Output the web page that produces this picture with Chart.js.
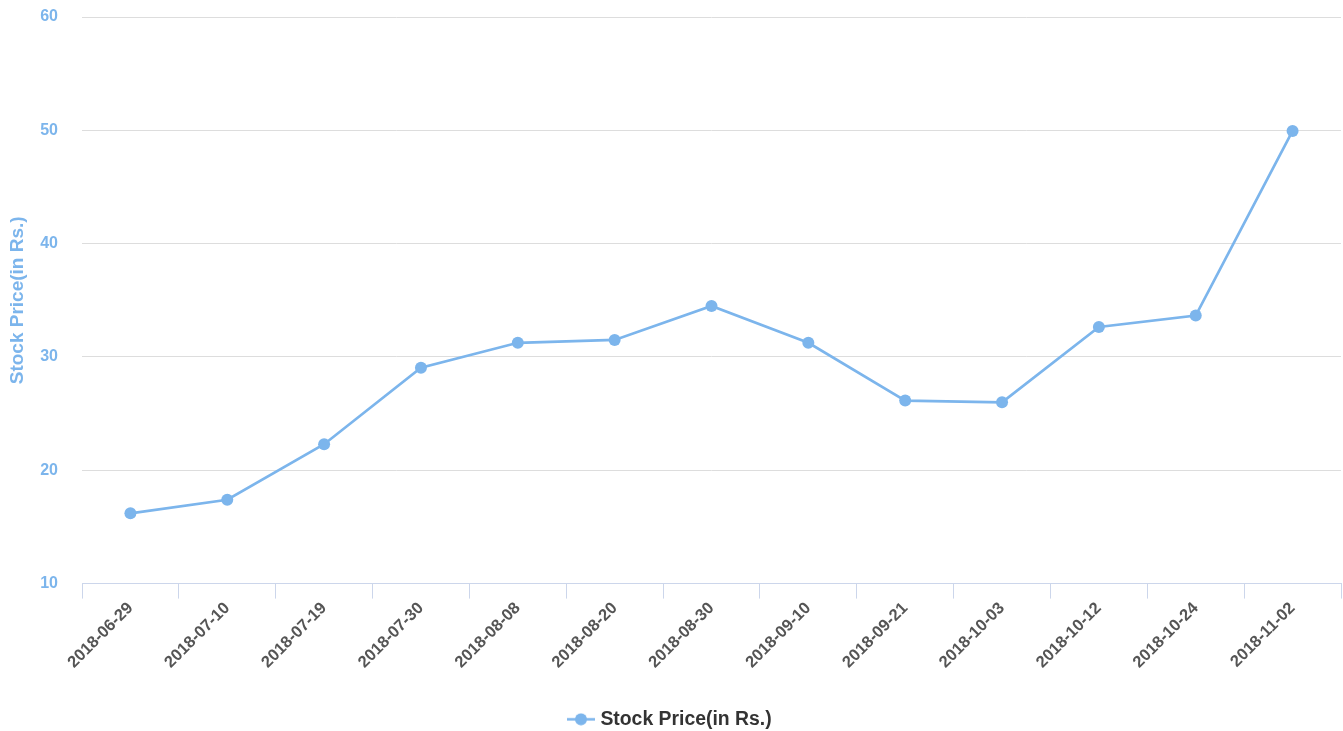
<!DOCTYPE html>
<html>
<head>
<meta charset="utf-8">
<script src="https://cdn.jsdelivr.net/npm/chart.js@4/dist/chart.umd.min.js"></script>
<style>
  html, body { margin: 0; padding: 0; background: #fff; overflow: hidden; }
  #wrap { width: 1347px; height: 731px; }
</style>
</head>
<body>
<div id="wrap"><canvas id="stockChart"></canvas></div>
<script>
const dates = ['2018-06-29', '2018-07-10', '2018-07-19', '2018-07-30', '2018-08-08', '2018-08-20',
  '2018-08-30', '2018-09-10', '2018-09-21', '2018-10-03', '2018-10-12', '2018-10-24', '2018-11-02'];
const prices = [16.2, 17.4, 22.3, 29.05, 31.25, 31.5, 34.5, 31.25, 26.15, 26.0, 32.65, 33.65, 49.95];
const yTicks = [10, 20, 30, 40, 50, 60];
const seriesName = 'Stock Price(in Rs.)';

// legend symbol: short line with a dot, like the original
const legendIcon = document.createElement('canvas');
legendIcon.width = 28;
legendIcon.height = 13;
(function() {
  const c = legendIcon.getContext('2d');
  c.strokeStyle = '#7cb5ec';
  c.lineWidth = 2.5;
  c.beginPath();
  c.moveTo(0, 6.5);
  c.lineTo(28, 6.5);
  c.stroke();
  c.fillStyle = '#7cb5ec';
  c.beginPath();
  c.arc(14, 6.5, 6, 0, Math.PI * 2);
  c.fill();
})();

const font = "'Liberation Sans', Arial, Helvetica, sans-serif";

// nudge the legend a little left, the canvas is a few px wider than the window
const legendNudge = {
  id: 'legendNudge',
  beforeDraw(chart) {
    if (!chart.legend._nudged) {
      chart.legend.left -= 3;
      chart.legend.right -= 3;
      chart.legend._nudged = true;
    }
  },
  afterUpdate(chart) { chart.legend._nudged = false; }
};

new Chart(document.getElementById('stockChart'), {
  type: 'line',
  data: {
    labels: dates,
    datasets: [{
      label: seriesName,
      data: prices,
      borderColor: '#7cb5ec',
      backgroundColor: '#7cb5ec',
      borderWidth: 2.7,
      pointRadius: 6,
      pointHoverRadius: 6,
      pointBackgroundColor: '#7cb5ec',
      pointBorderWidth: 0,
      tension: 0
    }]
  },
  plugins: [legendNudge],
  options: {
    responsive: true,
    maintainAspectRatio: false,
    animation: false,
    layout: { padding: { left: 2, right: 0, top: 17, bottom: -8 } },
    plugins: {
      legend: {
        position: 'bottom',
        labels: {
          usePointStyle: true,
          pointStyle: legendIcon,
          color: '#333333',
          font: { family: font, size: 19.4, weight: 'bold' },
          padding: 1,
          generateLabels: chart => [{
            text: seriesName,
            pointStyle: legendIcon,
            fillStyle: '#7cb5ec',
            strokeStyle: '#7cb5ec',
            fontColor: '#333333',
            datasetIndex: 0
          }]
        }
      },
      tooltip: { enabled: false }
    },
    scales: {
      x: {
        offset: true,
        afterFit: axis => { axis.height = 125; },
        grid: {
          offset: true,
          drawOnChartArea: false,
          color: '#ccd6eb',
          tickLength: 15
        },
        border: { color: '#ccd6eb', width: 1 },
        ticks: {
          color: '#555555',
          font: { family: font, size: 16.5, weight: 'bold' },
          minRotation: 45,
          maxRotation: 45,
          autoSkip: false,
          padding: 0
        }
      },
      y: {
        min: yTicks[0],
        max: yTicks[yTicks.length - 1],
        afterBuildTicks: axis => { axis.ticks = yTicks.map(v => ({ value: v })); },
        afterFit: axis => { axis.width = 80; },
        grid: { color: '#dddddd', tickColor: 'rgba(0,0,0,0)', tickLength: 24 },
        border: { display: false },
        ticks: {
          color: '#7cb5ec',
          font: { family: font, size: 16, weight: 'bold' },
          padding: 0
        },
        title: {
          display: true,
          text: seriesName,
          color: '#7cb5ec',
          font: { family: font, size: 19, weight: 'bold' },
          padding: { top: 4, bottom: 10 }
        }
      }
    }
  }
});
</script>
</body>
</html>
